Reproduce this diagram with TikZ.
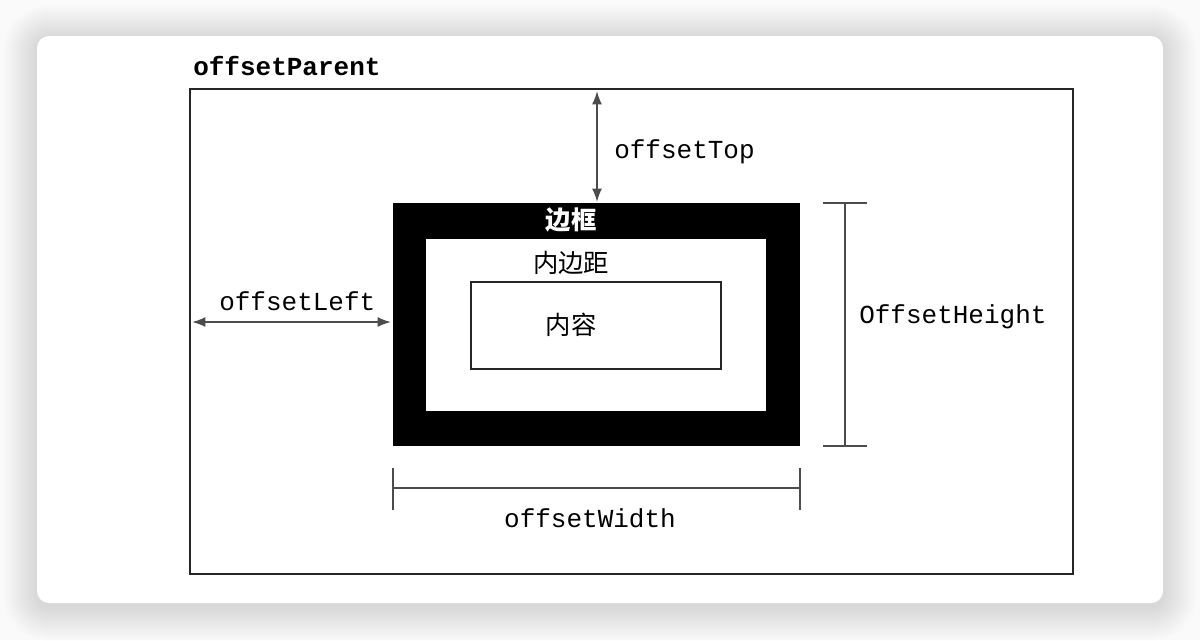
\documentclass[tikz,border=0pt]{standalone}
\usepackage{fontspec}
\newfontfamily\mono{Liberation Mono}
\newfontfamily\cjk{Noto Sans CJK SC}
\usetikzlibrary{arrows.meta,fit}
\begin{document}
\begin{tikzpicture}[x=0.75pt,y=-0.75pt,
  lbl/.style={font=\mono\fontsize{19.5}{22}\selectfont, text=black, inner sep=0pt},
  cjklbl/.style={font=\cjk\fontsize{19}{22}\selectfont, inner sep=0pt},
  frameline/.style={draw=black!85, line width=1.2pt},
  dimline/.style={draw=black!70, line width=1.4pt},
  dblarrow/.style={dimline, {Latex[length=10pt,width=7.5pt]}-{Latex[length=10pt,width=7.5pt]}}]
\useasboundingbox (0,0) rectangle (1200,640);
\fill[white!98!black] (0,0) rectangle (1200,640);
% card shadow
\foreach \i in {1,...,34} {
  \fill[black, opacity=0.0052, rounded corners={(12+\i)*0.75pt}] (37-\i,39-\i) rectangle (1163+\i,607+\i);
}
% card
\fill[white, rounded corners=9pt] (37,36) rectangle (1163,603);
% outer parent rectangle
\node[frameline, fit={(190,89) (1073,574)}, inner sep=0pt] (parent) {};
\node[lbl, font=\mono\bfseries\fontsize{19.5}{22}\selectfont, anchor=base west] (ptitle) at (193,75) {offsetParent};
% border box
\node[fill=black, fit={(393,203) (800,446)}, inner sep=0pt] (border) {};
\node[fill=white, fit={(426,239) (766,411)}, inner sep=0pt] (padding) {};
\node[frameline, fill=white, fit={(471,282) (721,369)}, inner sep=0pt] (content) {};
\node[cjklbl, text=white, font=\cjk\bfseries\fontsize{19}{22}\selectfont] (tborder) at (571,220) {边框};
\node[cjklbl] (tpadding) at (571,263) {内边距};
\node[cjklbl] (tcontent) at (571,325) {内容};
% offsetTop
\coordinate (topA) at (597,91);
\coordinate (topB) at (597,202);
\draw[dblarrow] (topA) -- (topB);
\node[lbl, anchor=west] (ltop) at (614,152) {offsetTop};
% offsetLeft
\coordinate (leftA) at (192,322);
\coordinate (leftB) at (391,322);
\draw[dblarrow] (leftA) -- (leftB);
\node[lbl, anchor=west] (lleft) at (219,301) {offsetLeft};
% OffsetHeight
\coordinate (hA) at (845,203);
\coordinate (hB) at (845,446);
\draw[dimline] (hA) -- (hB);
\draw[dimline] (823,203) -- (867,203);
\draw[dimline] (823,446) -- (867,446);
\node[lbl, anchor=west] (lheight) at (859,317) {OffsetHeight};
% offsetWidth
\coordinate (wA) at (393,488);
\coordinate (wB) at (800,488);
\draw[dimline] (wA) -- (wB);
\draw[dimline] (393,468) -- (393,510);
\draw[dimline] (800,468) -- (800,510);
\node[lbl] (lwidth) at (590,518) {offsetWidth};
\end{tikzpicture}
\end{document}
